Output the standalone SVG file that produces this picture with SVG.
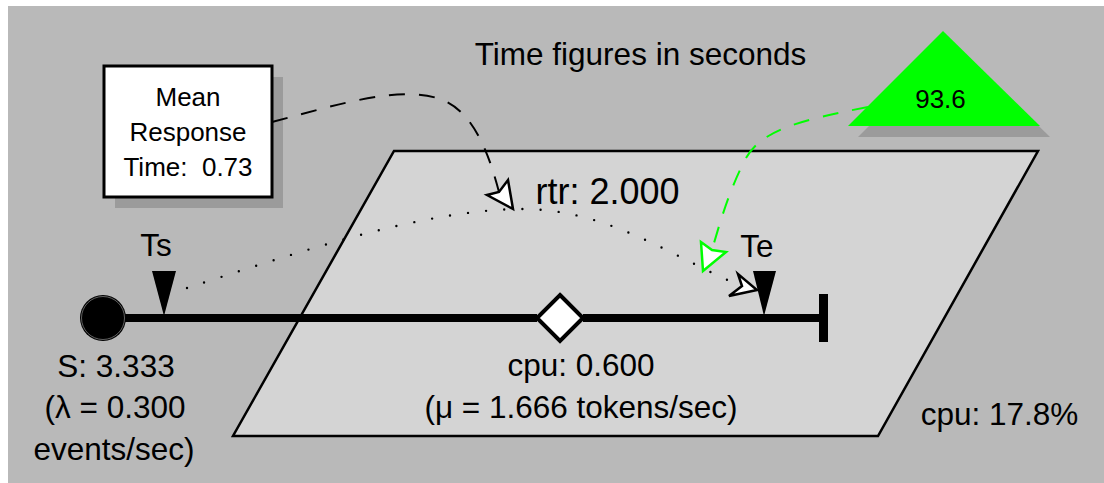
<svg xmlns="http://www.w3.org/2000/svg" width="1104" height="483" viewBox="0 0 1104 483">
<style>
text{font-family:"Liberation Sans",Arial,sans-serif;fill:#000}
.lbl{font-size:31.5px}
.sm{font-size:26px}
.pre{white-space:pre}
.dash{fill:none;stroke:#000;stroke-width:2;stroke-dasharray:16 14}
.gdash{fill:none;stroke:#00ff00;stroke-width:2;stroke-dasharray:16 14}
.dot{fill:none;stroke:#000;stroke-width:2.4;stroke-linecap:round;stroke-dasharray:0 18.2}
.ah{fill:#fff;stroke:#000;stroke-width:2.5;stroke-linejoin:miter}
.gah{fill:#fff;stroke:#00ff00;stroke-width:2.5;stroke-linejoin:miter}
.shadow{fill:#9b9b9b}
</style>
<rect x="8" y="6" width="1096" height="477" fill="#b9b9b9"/>
<text class="lbl" x="640.5" y="65" text-anchor="middle">Time figures in seconds</text>
<g id="cpu-plane">
<polygon points="394,151 1038,151 878,436 233,436" fill="#d4d4d4" stroke="#000" stroke-width="2.5"/>
<text class="lbl" x="581" y="376" text-anchor="middle">cpu: 0.600</text>
<text class="lbl" x="581" y="418" text-anchor="middle">(μ = 1.666 tokens/sec)</text>
<text class="lbl" x="999.5" y="425" text-anchor="middle">cpu: 17.8%</text>
</g>
<g id="mean-response">
<rect class="shadow" x="115" y="77" width="168" height="131"/>
<rect x="104" y="66" width="168" height="131" fill="#fff" stroke="#000" stroke-width="3"/>
<text class="sm" x="188" y="106" text-anchor="middle">Mean</text>
<text class="sm" x="188" y="141" text-anchor="middle">Response</text>
<text class="sm pre" x="188" y="176" text-anchor="middle">Time:  0.73</text>
</g>
<g id="throughput">
<polygon class="shadow" points="953,42 1050,137 858,137"/>
<polygon points="943,31 1040,126 848,126" fill="#00ff00"/>
<text class="sm" x="940.5" y="108" text-anchor="middle">93.6</text>
</g>
<g id="path-line">
<line x1="120" y1="318" x2="537" y2="318" stroke="#000" stroke-width="8"/>
<line x1="583" y1="318" x2="820" y2="318" stroke="#000" stroke-width="8"/>
<rect x="819" y="294" width="9" height="48" fill="#000"/>
</g>
<g id="source">
<circle cx="103" cy="318" r="23" fill="#000"/>
<circle cx="103" cy="318" r="21.5" fill="none" stroke="#7a7a7a" stroke-width="0.8"/>
<text class="lbl" x="116" y="377" text-anchor="middle">S: 3.333</text>
<text class="lbl" x="115" y="418" text-anchor="middle">(λ = 0.300</text>
<text class="lbl" x="114" y="460" text-anchor="middle">events/sec)</text>
</g>
<g id="cpu">
<polygon points="560,295 583,318 560,341 537,318" fill="#fff" stroke="#000" stroke-width="4"/>
</g>
<g id="Ts">
<polygon points="152,271 176,271 164,316" fill="#000"/>
<text class="lbl" x="156" y="256" text-anchor="middle">Ts</text>
</g>
<g id="Te">
<polygon points="753,271 776,271 764,316" fill="#000"/>
<text class="lbl" x="757" y="257" text-anchor="middle">Te</text>
</g>
<g id="connectors">
<path class="dot" d="M187,288 C290,255 420,210 520,209 C610,208 680,262 742,286"/>
<polygon class="ah" points="757,290 729,296 742,286 738,274"/>
<text class="lbl" x="607.5" y="204" text-anchor="middle" style="font-size:36px">rtr: 2.000</text>
<path class="dash" d="M272,122 C340,104 400,85 440,99 C472,110 488,150 499,192"/>
<polygon class="ah" points="513,209 487,195 499,192 508,180"/>
<path class="gdash" d="M868,107 C800,120 762,130 746,158 C730,188 720,222 712,250"/>
<polygon class="gah" points="703,271 701,242 712,250 726,252"/>
</g>
</svg>
